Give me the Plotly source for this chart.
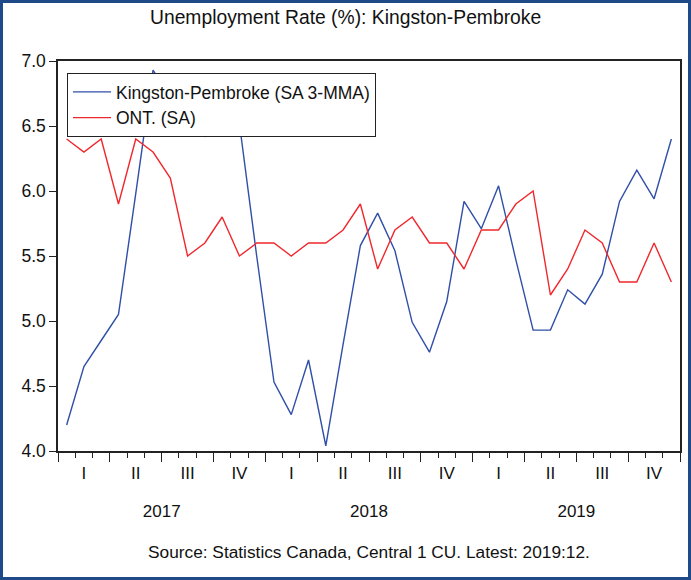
import plotly.graph_objects as go

months = list(range(36))  # Jan 2017 .. Dec 2019
kingston = [4.20, 4.65, 4.85, 5.05, 5.98, 6.93, 6.72, 6.45, 6.42, 6.70, 6.52, 5.50,
            4.53, 4.28, 4.70, 4.04, 4.82, 5.58, 5.83, 5.54, 4.99, 4.76, 5.15, 5.92,
            5.71, 6.04, 5.47, 4.93, 4.93, 5.24, 5.13, 5.36, 5.92, 6.16, 5.94, 6.40]
ontario = [6.4, 6.3, 6.4, 5.9, 6.4, 6.3, 6.1, 5.5, 5.6, 5.8, 5.5, 5.6,
           5.6, 5.5, 5.6, 5.6, 5.7, 5.9, 5.4, 5.7, 5.8, 5.6, 5.6, 5.4,
           5.7, 5.7, 5.9, 6.0, 5.2, 5.4, 5.7, 5.6, 5.3, 5.3, 5.6, 5.3]
quarter_labels = ["I", "II", "III", "IV"] * 3
year_labels = ["2017", "2018", "2019"]
title_text = "Unemployment Rate (%): Kingston-Pembroke"
source_text = "Source: Statistics Canada, Central 1 CU. Latest: 2019:12."

FONT = "Liberation Sans, Arial, sans-serif"
BLUE = "#2F4FA8"
RED = "#F0282D"

L, R, T, B = 58, 11, 61, 129
W, H = 691, 580
PW, PH = W - L - R, H - T - B

fig = go.Figure()
fig.add_trace(go.Scatter(x=months, y=kingston, mode="lines", name="Kingston-Pembroke (SA 3-MMA)",
                         line=dict(color=BLUE, width=1.4)))
fig.add_trace(go.Scatter(x=months, y=ontario, mode="lines", name="ONT. (SA)",
                         line=dict(color=RED, width=1.4)))

xr = [-0.5, 35.5]
quarter_bounds = [-0.5 + 3 * k for k in range(13)]
quarter_centers = [1 + 3 * k for k in range(12)]
year_centers = [5.5, 17.5, 29.5]

fig.update_layout(
    width=W, height=H,
    margin=dict(l=L, r=R, t=T, b=B, autoexpand=False),
    paper_bgcolor="white", plot_bgcolor="white",
    font=dict(family=FONT, size=17, color="#111111"),
    showlegend=True,
    legend=dict(x=(67 - L) / PW, y=(H - B - 73) / PH, xanchor="left", yanchor="top",
                bgcolor="white", bordercolor="#222222", borderwidth=1,
                font=dict(size=17.5), entrywidth=300, entrywidthmode="pixels",
                itemwidth=38, tracegroupgap=0),
    xaxis=dict(range=xr, tickvals=quarter_bounds, ticks="outside", ticklen=9, tickcolor="#222222",
               showticklabels=False, showgrid=False, zeroline=False, automargin=False,
               showline=True, linecolor="#222222", linewidth=1.5, mirror=True,
               minor=dict(tickvals=[-0.5 + k for k in range(37)], ticks="outside", ticklen=5,
                          tickcolor="#222222", showgrid=False)),
    xaxis2=dict(range=xr, overlaying="x", anchor="y", side="bottom", automargin=False,
                tickvals=quarter_centers, ticktext=quarter_labels, ticks="",
                ticklabelstandoff=10, showgrid=False, zeroline=False, showline=False,
                tickfont=dict(size=17)),
    xaxis3=dict(range=xr, overlaying="x", anchor="y", side="bottom", automargin=False,
                tickvals=year_centers, ticktext=year_labels, ticks="",
                ticklabelstandoff=48, showgrid=False, zeroline=False, showline=False,
                tickfont=dict(size=17)),
    yaxis=dict(range=[4.0, 7.0], dtick=0.5, tick0=4.0, tickformat=".1f", automargin=False,
               ticks="outside", ticklen=7, tickcolor="#222222",
               showgrid=False, zeroline=False,
               showline=True, linecolor="#222222", linewidth=1.5, mirror=True,
               tickfont=dict(size=17.5)),
)

# invisible traces to activate overlay axes
fig.add_trace(go.Scatter(x=[None], y=[None], xaxis="x2", showlegend=False, hoverinfo="skip"))
fig.add_trace(go.Scatter(x=[None], y=[None], xaxis="x3", showlegend=False, hoverinfo="skip"))

fig.add_annotation(text=title_text, xref="paper", yref="paper",
                   x=(W / 2 - L) / PW, y=(H - B - 18) / PH, xanchor="center", yanchor="middle",
                   showarrow=False, font=dict(size=19.3, family=FONT))
fig.add_annotation(text=source_text, xref="paper", yref="paper",
                   x=0.5, y=(H - B - 552) / PH, xanchor="center", yanchor="middle",
                   showarrow=False, font=dict(size=17.3, family=FONT))

# outer border of the figure
fig.add_shape(type="rect", xref="paper", yref="paper",
              x0=(1.5 - L) / PW, x1=(W - 1.5 - L) / PW,
              y0=(H - B - (H - 1.5)) / PH, y1=(H - B - 1.5) / PH,
              line=dict(color="#1F4A8A", width=3), fillcolor="rgba(0,0,0,0)", layer="above")

fig.write_html("out.html", config={"displayModeBar": False},
               post_script="document.body.style.margin='0';document.body.style.padding='0';")
